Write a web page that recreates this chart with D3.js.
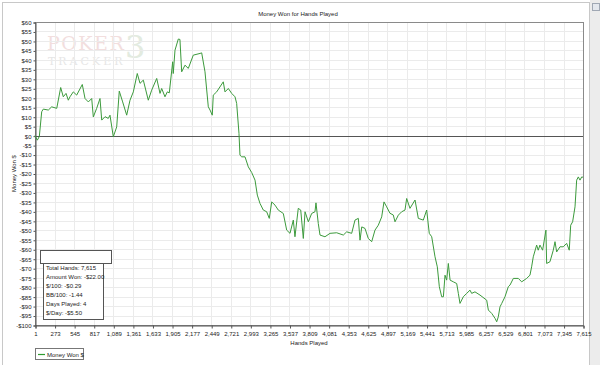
<!DOCTYPE html>
<html>
<head>
<meta charset="utf-8">
<script src="https://cdn.jsdelivr.net/npm/d3@7"></script>
<style>
	body { margin: 0; background: #fff; }
	svg { display: block; font-family: "Liberation Sans", Arial, sans-serif; }
</style>
</head>
<body>
<div id="canvas"></div>
<script>
// hand number and cumulative winnings
const hands = [1, 33, 61, 94, 116, 186, 233, 303, 358, 394, 432, 464, 487, 533, 580, 658, 696, 742, 789, 811,
	858, 904, 928, 974, 1019, 1043, 1089, 1136, 1172, 1219, 1275, 1321, 1367, 1422, 1460, 1506, 1575, 1622, 1692, 1738,
	1761, 1807, 1839, 1867, 1914, 1922, 1946, 1992, 2015, 2039, 2085, 2131, 2200, 2294, 2317, 2363, 2409, 2433, 2464, 2478,
	2525, 2617, 2641, 2687, 2734, 2780, 2803, 2835, 2849, 2873, 2919, 2965, 3012, 3058, 3090, 3127, 3173, 3220, 3256, 3290,
	3336, 3381, 3451, 3498, 3544, 3590, 3613, 3659, 3693, 3729, 3753, 3799, 3845, 3891, 3905, 3937, 3961, 4030, 4100, 4193,
	4285, 4332, 4401, 4447, 4493, 4517, 4541, 4586, 4632, 4679, 4725, 4771, 4818, 4850, 4887, 4933, 4979, 5003, 5049, 5096,
	5142, 5165, 5211, 5281, 5327, 5396, 5443, 5479, 5513, 5559, 5591, 5619, 5652, 5675, 5698, 5721, 5744, 5768, 5813, 5860,
	5883, 5906, 5952, 5999, 6045, 6068, 6114, 6184, 6277, 6300, 6347, 6393, 6416, 6438, 6462, 6486, 6531, 6577, 6601, 6647,
	6716, 6763, 6832, 6878, 6901, 6924, 6971, 6993, 7017, 7054, 7100, 7110, 7156, 7202, 7226, 7249, 7295, 7341, 7388, 7424,
	7444, 7471, 7504, 7527, 7550, 7573, 7597, 7615];
const moneyWon = [0, -2.4, -0.5, 12.6, 14, 13.5, 15.2, 14.4, 25.4, 20.5, 22.3, 18.7, 20.5, 23.1, 21.4, 27, 19.6, 17.8, 19.6, 9.9,
	14.4, 19.6, 8.2, 10, 9.1, 10.8, -0.6, 4.6, 23.5, 17.8, 10.8, 18.7, 23.1, 32.8, 27.6, 29.3, 18.7, 24, 30.2, 22.3,
	24.9, 20.5, 23.1, 22.6, 39, 32.8, 45.1, 51, 50.8, 33.7, 37.2, 35.5, 42.5, 43.4, 43.7, 33.7, 15.2, 13.5, 10.8, 21.4,
	23.1, 28.4, 23.1, 24.9, 22.3, 20.5, 17, 1.2, -10.3, -11.2, -11.2, -16.5, -19.5, -23.5, -31.4, -35.8, -39.3, -40.2, -43.7, -35,
	-36.7, -39.3, -41.1, -49.9, -51.6, -44.6, -53.4, -38.4, -39.3, -54.3, -40.2, -45.5, -41.1, -40.2, -35.5, -46.4, -52.5, -53.4, -51.6, -51.3,
	-52.5, -50.8, -51.6, -44.6, -43.7, -55.2, -48.2, -49, -54.3, -56, -49.9, -47.3, -42.9, -35, -37.6, -41, -41.9, -45.5, -42, -40.2,
	-39.3, -33.2, -38.4, -34, -43.7, -44.6, -39.3, -51.6, -53.4, -64, -69.3, -79.8, -85.1, -85.1, -73.7, -76.3, -67.5, -76.3, -77.2, -78.1,
	-83.3, -88.6, -85.1, -83.3, -81.6, -83.3, -82.5, -84.2, -86.9, -92.1, -93.9, -96.5, -98.3, -95.7, -90.4, -88.6, -85.1, -79.8, -78.9, -75.4,
	-75.4, -77.2, -75.4, -73.7, -69.3, -64, -57.8, -60.5, -57.8, -60.5, -49.9, -67.5, -66.6, -60.5, -56, -61.4, -58.7, -58.7, -56.9, -60.5,
	-47.3, -45.5, -37.6, -23.5, -21.8, -23.5, -21.8, -22];

const handTicks = [1, 273, 545, 817, 1089, 1361, 1633, 1905, 2177, 2449, 2721, 2993, 3265, 3537, 3809,
	4081, 4353, 4625, 4897, 5169, 5441, 5713, 5985, 6257, 6529, 6801, 7073, 7345, 7615];
const dollarTicks = d3.range(60, -101, -5);

const statLines = ["Total Hands: 7,615", "Amount Won: -$22.00", "$/100: -$0.29", "BB/100: -1.44", "Days Played: 4", "$/Day: -$5.50"];

const width = 600;
const height = 365;
const plot = { left: 35, right: 583, top: 22, bottom: 325 };

const svg = d3.select("#canvas").append("svg")
	.attr("width", width)
	.attr("height", height);

// window frame and right-hand strip
svg.append("rect").attr("x", 2.5).attr("y", 2.5).attr("width", 587).attr("height", 370)
	.attr("fill", "#fff").attr("stroke", "#c8c8c8");
svg.append("rect").attr("x", 590).attr("y", 0).attr("width", 10).attr("height", height).attr("fill", "#ececec");
svg.append("rect").attr("x", 592.5).attr("y", 3.5).attr("width", 7).attr("height", 7)
	.attr("fill", "#e4e8ee").attr("stroke", "#a0a8b4");

const x = d3.scaleLinear().domain([1, 7615]).range([plot.left, plot.right]);
const y = d3.scaleLinear().domain([-100, 60]).range([plot.bottom, plot.top]);

// watermark
const wm = svg.append("g").attr("font-family", "'DejaVu Serif', 'Liberation Serif', serif");
wm.append("text").attr("x", 47).attr("y", 50).attr("font-size", 19).attr("fill", "#f2dede")
	.attr("letter-spacing", 1.5).text("POKER");
wm.append("text").attr("x", 125).attr("y", 58).attr("font-size", 32).attr("fill", "#e3ebe0").text("3");
wm.append("text").attr("x", 48).attr("y", 65).attr("font-size", 11).attr("fill", "#e6e6e6")
	.attr("letter-spacing", 3).text("TRACKER");

// grid
svg.append("g").selectAll("line").data(handTicks).enter().append("line")
	.attr("x1", (d) => Math.round(x(d)) + 0.5).attr("x2", (d) => Math.round(x(d)) + 0.5)
	.attr("y1", plot.top).attr("y2", plot.bottom)
	.attr("stroke", "#ebebeb");
svg.append("g").selectAll("line").data(dollarTicks).enter().append("line")
	.attr("x1", plot.left).attr("x2", plot.right)
	.attr("y1", (d) => Math.round(y(d)) + 0.5).attr("y2", (d) => Math.round(y(d)) + 0.5)
	.attr("stroke", "#ebebeb");

// plot border
svg.append("rect").attr("x", plot.left + 0.5).attr("y", plot.top + 0.5)
	.attr("width", plot.right - plot.left).attr("height", plot.bottom - plot.top)
	.attr("fill", "none").attr("stroke", "#8a8a8a");

// zero line
svg.append("line").attr("x1", plot.left).attr("x2", plot.right)
	.attr("y1", Math.round(y(0)) + 0.5).attr("y2", Math.round(y(0)) + 0.5)
	.attr("stroke", "#555");

// axes
const fmtDollar = (d) => d < 0 ? `-$${-d}` : `$${d}`;
const yAxis = svg.append("g")
	.attr("transform", `translate(${plot.left + 0.5}, 0.5)`)
	.call(d3.axisLeft(y).tickValues(dollarTicks).tickFormat(fmtDollar).tickSize(2).tickPadding(2));
const xAxis = svg.append("g")
	.attr("transform", `translate(0.5, ${plot.bottom + 0.5})`)
	.call(d3.axisBottom(x).tickValues(handTicks).tickFormat(d3.format(",")).tickSize(3).tickPadding(3));

for (const axis of [xAxis, yAxis]) {
	axis.select(".domain").attr("stroke", "#555");
	axis.selectAll(".tick line").attr("stroke", "#555");
	axis.selectAll(".tick text").attr("fill", "#222").attr("font-size", 6)
		.attr("font-family", "'Liberation Sans', Arial, sans-serif");
}

// line
const line = d3.line()
	.x((d, i) => x(hands[i]))
	.y((d) => y(d));
svg.append("path")
	.datum(moneyWon)
	.attr("fill", "none")
	.attr("stroke", "#3c9a3c")
	.attr("stroke-width", 1)
	.attr("stroke-linejoin", "round")
	.attr("d", line);

// titles
svg.append("text").attr("x", 298).attr("y", 16).attr("text-anchor", "middle")
	.attr("font-size", 6).attr("fill", "#222").text("Money Won for Hands Played");
svg.append("text").attr("x", (plot.left + plot.right) / 2).attr("y", 345).attr("text-anchor", "middle")
	.attr("font-size", 6).attr("fill", "#222").text("Hands Played");
svg.append("text").attr("transform", `translate(16, ${(plot.top + plot.bottom) / 2}) rotate(-90)`)
	.attr("text-anchor", "middle").attr("font-size", 6).attr("fill", "#222").text("Money Won $");

// stats box
svg.append("rect").attr("x", 43.5).attr("y", 263.5).attr("width", 60).attr("height", 56)
	.attr("fill", "#fff").attr("stroke", "#555");
svg.append("rect").attr("x", 40.5).attr("y", 250.5).attr("width", 71).attr("height", 13)
	.attr("fill", "#fff").attr("stroke", "#555");
svg.append("g").selectAll("text").data(statLines).enter().append("text")
	.attr("x", 46).attr("y", (d, i) => 270 + i * 8.9)
	.attr("font-size", 6).attr("fill", "#222").text((d) => d);

// legend
svg.append("rect").attr("x", 35.5).attr("y", 348.5).attr("width", 48).attr("height", 11)
	.attr("fill", "#fff").attr("stroke", "#777");
svg.append("line").attr("x1", 38).attr("x2", 45).attr("y1", 354.5).attr("y2", 354.5)
	.attr("stroke", "#2e9b2e").attr("stroke-width", 1.2);
svg.append("text").attr("x", 47).attr("y", 356.5).attr("font-size", 6).attr("fill", "#222").text("Money Won $");
</script>
</body>
</html>
